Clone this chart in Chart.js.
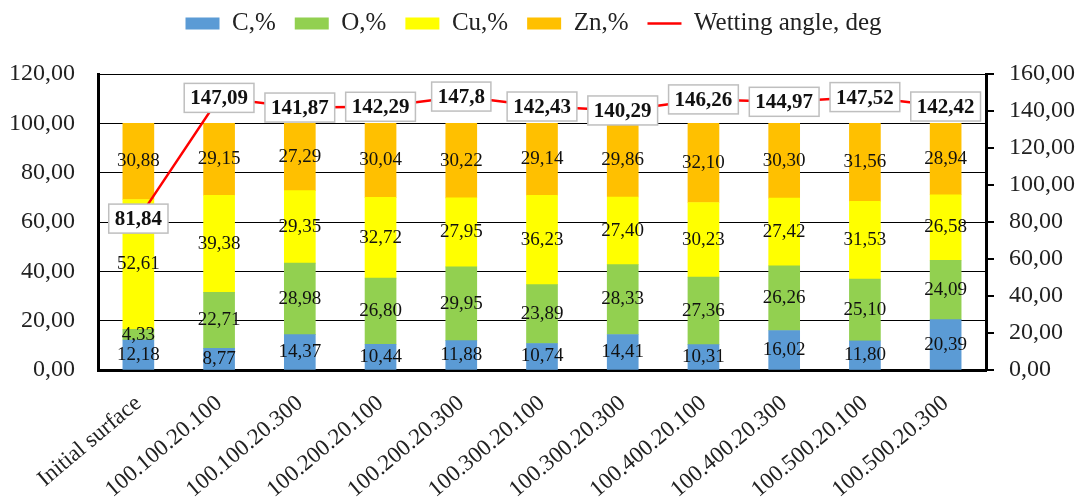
<!DOCTYPE html>
<html>
<head>
<meta charset="utf-8">
<script src="https://cdn.jsdelivr.net/npm/chart.js@4.4.1/dist/chart.umd.min.js"></script>
<style>
html,body{margin:0;padding:0;background:#fff;}
#wrap{width:1087px;height:504px;}
</style>
</head>
<body>
<div id="wrap"><canvas id="c" width="1087" height="504"></canvas></div>
<script>
// ---- data ----
const categories = ['Initial surface','100.100.20.100','100.100.20.300','100.200.20.100','100.200.20.300',
  '100.300.20.100','100.300.20.300','100.400.20.100','100.400.20.300','100.500.20.100','100.500.20.300'];
const carbon  = [12.18, 8.77, 14.37, 10.44, 11.88, 10.74, 14.41, 10.31, 16.02, 11.80, 20.39];
const oxygen  = [4.33, 22.71, 28.98, 26.80, 29.95, 23.89, 28.33, 27.36, 26.26, 25.10, 24.09];
const copper  = [52.61, 39.38, 29.35, 32.72, 27.95, 36.23, 27.40, 30.23, 27.42, 31.53, 26.58];
const zinc    = [30.88, 29.15, 27.29, 30.04, 30.22, 29.14, 29.86, 32.10, 30.30, 31.56, 28.94];
const wettingAngle = [81.84, 147.09, 141.87, 142.29, 147.8, 142.43, 140.29, 146.26, 144.97, 147.52, 142.42];
const seriesNames = ['C,%','O,%','Cu,%','Zn,%','Wetting angle, deg'];

const FONT = "'Liberation Serif','Times New Roman',serif";
const fmt2 = v => Number(v).toFixed(2).replace('.', ',');
const fmtAngle = v => String(v).replace('.', ',');

const labelPlugin = {
  id: 'valueLabels',
  beforeLayout(chart) {
    const lg = chart.legend;
    if (lg && !lg._patched) {
      const orig = lg.fit;
      lg.fit = function () { orig.call(this); this.height += 20; };
      lg._patched = true;
    }
  },
  afterLayout(chart) {
    const lg = chart.legend;
    if (lg) { lg.top -= 8; lg.bottom -= 8; lg.left -= 10; lg.right -= 10; }
  },
  afterDatasetsDraw(chart) {
    const ctx = chart.ctx;
    ctx.save();
    // bar labels
    ctx.font = '19px ' + FONT;
    ctx.fillStyle = '#111';
    ctx.textAlign = 'center';
    ctx.textBaseline = 'middle';
    chart.data.datasets.forEach((ds, i) => {
      if (ds.type === 'line') return;
      const meta = chart.getDatasetMeta(i);
      meta.data.forEach((el, j) => {
        const p = el.getProps(['x', 'y', 'base'], true);
        ctx.fillText(fmt2(ds.data[j]), p.x, (p.y + p.base) / 2);
      });
    });
    // line labels in boxes
    ctx.font = 'bold 21px ' + FONT;
    chart.data.datasets.forEach((ds, i) => {
      if (ds.type !== 'line') return;
      const meta = chart.getDatasetMeta(i);
      meta.data.forEach((el, j) => {
        const txt = fmtAngle(ds.data[j]);
        const w = ctx.measureText(txt).width + 12;
        const h = 29;
        const x = el.x - w / 2, y = el.y - h / 2;
        ctx.fillStyle = '#fff';
        ctx.fillRect(x, y, w, h);
        ctx.strokeStyle = '#bfbfbf';
        ctx.lineWidth = 1.5;
        ctx.strokeRect(x, y, w, h);
        ctx.fillStyle = '#111';
        ctx.fillText(txt, el.x, el.y + 1);
      });
    });
    ctx.restore();
  }
};

const barDs = (label, data, color) => ({
  type: 'bar', label, data, backgroundColor: color, borderWidth: 0,
  yAxisID: 'y', stack: 'comp', barThickness: 31, pointStyle: 'rect'
});

new Chart(document.getElementById('c'), {
  data: {
    labels: categories,
    datasets: [
      barDs(seriesNames[0], carbon, '#5B9BD5'),
      barDs(seriesNames[1], oxygen, '#92D050'),
      barDs(seriesNames[2], copper, '#FFFF00'),
      barDs(seriesNames[3], zinc, '#FFC000'),
      {
        type: 'line', label: seriesNames[4], data: wettingAngle, yAxisID: 'y1',
        borderColor: '#FF0000', backgroundColor: '#FF0000', borderWidth: 2.5,
        pointRadius: 0, pointStyle: 'line', order: -1, tension: 0
      }
    ]
  },
  options: {
    responsive: false,
    animation: false,
    devicePixelRatio: 1,
    layout: { padding: { top: 0, left: 0, right: 0, bottom: 0 } },
    plugins: {
      legend: {
        position: 'top',
        labels: {
          font: { family: FONT, size: 25 },
          color: '#222',
          usePointStyle: true,
          pointStyleWidth: 34,
          boxHeight: 12,
          padding: 19,
          sort: (a, b) => a.datasetIndex - b.datasetIndex
        }
      },
      tooltip: { enabled: false }
    },
    scales: {
      x: {
        stacked: true,
        grid: { display: false, drawTicks: false },
        border: { display: true, color: '#000', width: 3 },
        ticks: {
          font: { family: FONT, size: 23 }, color: '#222',
          minRotation: 40, maxRotation: 40, autoSkip: false, padding: 20
        },
        afterFit(s) { s.height = 134; }
      },
      y: {
        position: 'left', stacked: true, min: 0, max: 120,
        ticks: { stepSize: 20, callback: v => fmt2(v), font: { family: FONT, size: 24 }, color: '#222', padding: 23 },
        grid: { color: '#000', lineWidth: 1, drawTicks: false },
        border: { color: '#000', width: 3 },
        afterFit(s) { s.width = 98; }
      },
      y1: {
        position: 'right', stacked: false, min: 0, max: 160,
        ticks: { stepSize: 20, callback: v => fmt2(v), font: { family: FONT, size: 24 }, color: '#222', padding: 15 },
        grid: { drawOnChartArea: false, drawTicks: true, tickLength: 8, color: '#000', lineWidth: 2 },
        border: { color: '#000', width: 3 },
        afterFit(s) { s.width = 101; }
      }
    }
  },
  plugins: [labelPlugin]
});
</script>
</body>
</html>
